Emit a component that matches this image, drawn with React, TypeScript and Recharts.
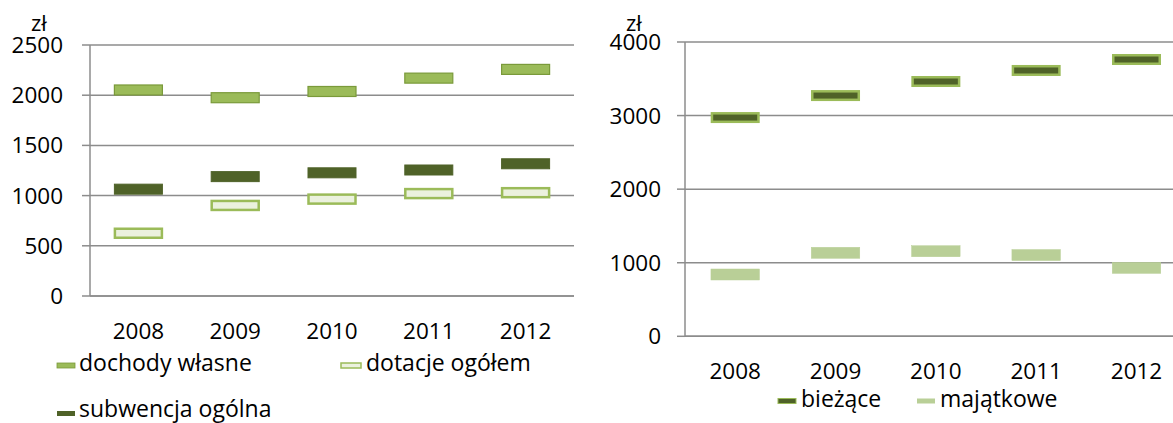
import React from 'react';
import { LineChart, Line, XAxis, YAxis, CartesianGrid } from 'recharts';

const years = ['2008', '2009', '2010', '2011', '2012'];
const dochodyWlasne = [2052, 1975, 2037, 2170, 2257];
const dotacjeOgolem = [625, 902, 965, 1020, 1029];
const subwencjaOgolna = [1064, 1189, 1227, 1255, 1317];
const biezace = [2973, 3272, 3463, 3613, 3762];
const majatkowe = [840, 1135, 1156, 1104, 930];
const leftTicks = [0, 500, 1000, 1500, 2000, 2500];
const rightTicks = [0, 1000, 2000, 3000, 4000];
const boundaryTicks = [0, 1, 2, 3, 4, 5];

const leftData = years.map((year, i) => ({
  year,
  dochody: dochodyWlasne[i],
  dotacje: dotacjeOgolem[i],
  subwencja: subwencjaOgolna[i],
}));
const rightData = years.map((year, i) => ({
  year,
  biezace: biezace[i],
  majatkowe: majatkowe[i],
}));

const FONT = "'Open Sans', sans-serif";
const GRID = '#8c8c8c';

const makeBox = (fill: string, stroke: string, sw: number, w: number, h: number) => (props: any) => {
  const { cx, cy, index } = props;
  if (cx == null || cy == null) return <g key={`b${index}`} />;
  return (
    <rect
      key={`b${index}`}
      x={cx - w / 2}
      y={cy - h / 2}
      width={w}
      height={h}
      fill={fill}
      stroke={stroke}
      strokeWidth={sw}
    />
  );
};

const tickStyle = { fill: '#000', fontSize: 22.5, fontFamily: FONT };

export default function App() {
  return (
    <div
      style={{
        position: 'absolute',
        left: 0,
        top: 0,
        width: 1173,
        height: 423,
        overflow: 'hidden',
        background: '#fff',
        fontFamily: FONT,
      }}
    >
      <div style={{ position: 'absolute', left: 0, top: 0 }}>
        <LineChart width={580} height={423} data={leftData} margin={{ top: 45, right: 6, bottom: 86, left: 0 }}>
          <CartesianGrid vertical={false} stroke={GRID} strokeWidth={1.5} />
          <XAxis
            xAxisId={0}
            type="number"
            domain={[0, 5]}
            ticks={boundaryTicks}
            allowDataOverflow
            tick={false}
            tickSize={8}
            height={1}
            axisLine={{ stroke: GRID, strokeWidth: 1.5 }}
            tickLine={{ stroke: GRID, strokeWidth: 1.5 }}
          />
          <XAxis
            xAxisId={1}
            dataKey="year"
            padding={{ left: 48.4, right: 48.4 }}
            axisLine={false}
            tickLine={false}
            tickSize={0}
            tickMargin={26}
            height={40}
            interval={0}
            tick={tickStyle}
          />
          <YAxis
            width={90}
            domain={[0, 2500]}
            ticks={leftTicks}
            interval={0}
            tickSize={8}
            tickMargin={19}
            axisLine={{ stroke: GRID, strokeWidth: 1.5 }}
            tickLine={{ stroke: GRID, strokeWidth: 1.5 }}
            tick={tickStyle}
          />
          <Line
            xAxisId={1}
            dataKey="dochody"
            stroke="none"
            dot={makeBox('#9BBB59', '#7A9A3A', 1.2, 48, 10)}
            activeDot={false}
            isAnimationActive={false}
          />
          <Line
            xAxisId={1}
            dataKey="dotacje"
            stroke="none"
            dot={makeBox('#EBF1DE', '#9BBB59', 2.5, 47, 9)}
            activeDot={false}
            isAnimationActive={false}
          />
          <Line
            xAxisId={1}
            dataKey="subwencja"
            stroke="none"
            dot={makeBox('#4F6228', '#4F6228', 1, 48, 10)}
            activeDot={false}
            isAnimationActive={false}
          />
        </LineChart>
      </div>

      <div style={{ position: 'absolute', left: 590, top: 0 }}>
        <LineChart width={600} height={423} data={rightData} margin={{ top: 42, right: 3.3, bottom: 45.7, left: 0 }}>
          <CartesianGrid vertical={false} stroke={GRID} strokeWidth={1.5} />
          <XAxis
            xAxisId={0}
            type="number"
            domain={[0, 5]}
            ticks={boundaryTicks}
            allowDataOverflow
            tick={false}
            tickSize={8}
            height={1}
            axisLine={{ stroke: GRID, strokeWidth: 1.5 }}
            tickLine={{ stroke: GRID, strokeWidth: 1.5 }}
          />
          <XAxis
            xAxisId={1}
            dataKey="year"
            padding={{ left: 50.2, right: 50.2 }}
            axisLine={false}
            tickLine={false}
            tickSize={0}
            tickMargin={26}
            height={40}
            interval={0}
            tick={tickStyle}
          />
          <YAxis
            width={95}
            domain={[0, 4000]}
            ticks={rightTicks}
            interval={0}
            tickSize={8}
            tickMargin={16}
            axisLine={{ stroke: GRID, strokeWidth: 1.5 }}
            tickLine={{ stroke: GRID, strokeWidth: 1.5 }}
            tick={tickStyle}
          />
          <Line
            xAxisId={1}
            dataKey="biezace"
            stroke="none"
            dot={makeBox('#4F6228', '#9BBB59', 2.5, 46.5, 8.5)}
            activeDot={false}
            isAnimationActive={false}
          />
          <Line
            xAxisId={1}
            dataKey="majatkowe"
            stroke="none"
            dot={makeBox('#B9CF97', '#B9CF97', 0.5, 48.5, 11)}
            activeDot={false}
            isAnimationActive={false}
          />
        </LineChart>
      </div>

      <svg
        width={1173}
        height={423}
        style={{ position: 'absolute', left: 0, top: 0, pointerEvents: 'none' }}
        fontFamily={FONT}
      >
        <text x={31} y={31} fontSize={22} fill="#000">zł</text>
        <text x={626} y={31} fontSize={22} fill="#000">zł</text>

        <rect x={57} y={363} width={18} height={5} fill="#9BBB59" stroke="#7A9A3A" strokeWidth={0.8} />
        <text x={79} y={371} fontSize={23} fill="#000">dochody własne</text>
        <rect x={341} y={363} width={20} height={5} fill="#EBF1DE" stroke="#9BBB59" strokeWidth={1.5} />
        <text x={366} y={371} fontSize={23} fill="#000">dotacje ogółem</text>
        <rect x={57} y={411} width={18} height={5} fill="#4F6228" />
        <text x={79} y={417} fontSize={23} fill="#000">subwencja ogólna</text>

        <rect x={778} y={398.5} width={18} height={5} fill="#4F6228" stroke="#9BBB59" strokeWidth={1} />
        <text x={801} y={407} fontSize={23} fill="#000">bieżące</text>
        <rect x={917} y={398.5} width={18} height={5} fill="#B9CF97" />
        <text x={940} y={407} fontSize={23} fill="#000">majątkowe</text>
      </svg>
    </div>
  );
}
